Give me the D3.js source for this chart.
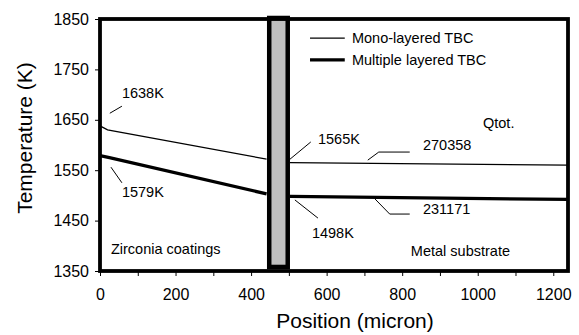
<!DOCTYPE html>
<html>
<head>
<meta charset="utf-8">
<script src="https://cdn.jsdelivr.net/npm/d3@7/dist/d3.min.js"></script>
<style>
  html, body { margin: 0; padding: 0; background: #fff; }
  svg { display: block; font-family: Arial, "Liberation Sans", Helvetica, sans-serif; }
</style>
</head>
<body>
<svg id="chart" width="579" height="335"></svg>
<script>
// Temperature profiles through a thermal barrier coating (position in micron, temperature in K)
const monoCoating    = [[0, 1638], [20, 1630], [441, 1572]];
const monoSubstrate  = [[503, 1565], [1239, 1560]];
const multiCoating   = [[0, 1579], [25, 1575], [441, 1503]];
const multiSubstrate = [[503, 1498], [1239, 1492]];

// Bond-coat band between coating and substrate
const bondBand = { x0: 448, x1: 497, t0: 1358, t1: 1852 };

const xTicks = [0, 100, 200, 300, 400, 500, 600, 700, 800, 900, 1000, 1100, 1200];
const xTickLabels = [0, 200, 400, 600, 800, 1000, 1200];
const yTicks = [1350, 1450, 1550, 1650, 1750, 1850];

// Callouts: leader polyline and label anchor, in data units
const callouts = [
  { text: "1638K",  leader: [[26, 1663], [58, 1677]], at: [58, 1703] },
  { text: "1579K",  leader: [[29, 1556], [58, 1525]], at: [58, 1507] },
  { text: "1565K",  leader: [[500, 1570], [558, 1606]], at: [577, 1612] },
  { text: "1498K",  leader: [[516, 1491], [577, 1455]], at: [561, 1425] },
  { text: "270358", leader: [[709, 1570], [738, 1586], [820, 1586]], at: [855, 1600] },
  { text: "231171", leader: [[728, 1493], [767, 1463], [820, 1463]], at: [855, 1473] }
];
const notes = [
  { text: "Qtot.", at: [1014, 1644] },
  { text: "Zirconia coatings", at: [29, 1394] },
  { text: "Metal substrate", at: [823, 1390] }
];
const legendItems = [
  { text: "Mono-layered TBC", width: 1.3, t: 1812 },
  { text: "Multiple layered TBC", width: 3.2, t: 1769 }
];

const svg = d3.select("#chart");
const x = d3.scaleLinear().domain([0, 1239]).range([100, 568]);
const y = d3.scaleLinear().domain([1350, 1850]).range([271, 19]);

// Axes with outward ticks
const xAxis = d3.axisBottom(x).tickValues(xTicks).tickSize(5).tickPadding(13)
  .tickFormat(d => xTickLabels.includes(d) ? String(d) : "");
const yAxis = d3.axisLeft(y).tickValues(yTicks).tickSize(5).tickPadding(6)
  .tickFormat(d3.format("d"));

const gx = svg.append("g").attr("transform", "translate(0,271)").call(xAxis);
const gy = svg.append("g").attr("transform", "translate(100,0)").call(yAxis);
[gx, gy].forEach(g => {
  g.select(".domain").remove();
  g.selectAll("line").attr("stroke", "#000").attr("stroke-width", 1);
  g.selectAll("text").attr("fill", "#000").style("font-size", "16px")
    .style("font-family", "Arial, 'Liberation Sans', sans-serif");
});

// Bond-coat band
svg.append("rect")
  .attr("x", x(bondBand.x0)).attr("y", y(bondBand.t1))
  .attr("width", x(bondBand.x1) - x(bondBand.x0))
  .attr("height", y(bondBand.t0) - y(bondBand.t1))
  .attr("fill", "#c0c0c0").attr("stroke", "#000").attr("stroke-width", 4.5);

// Profiles
const line = d3.line().x(d => x(d[0])).y(d => y(d[1]));
const series = [
  { data: monoCoating, w: 1.3 }, { data: monoSubstrate, w: 1.3 },
  { data: multiCoating, w: 3.2 }, { data: multiSubstrate, w: 3.2 }
];
svg.selectAll("path.profile").data(series).join("path")
  .attr("class", "profile")
  .attr("d", d => line(d.data))
  .attr("fill", "none").attr("stroke", "#000")
  .attr("stroke-width", d => d.w);

// Plot frame
svg.append("rect")
  .attr("x", x(0)).attr("y", y(1850))
  .attr("width", x(1239) - x(0)).attr("height", y(1350) - y(1850))
  .attr("fill", "none").attr("stroke", "#000").attr("stroke-width", 3.8);

// Callouts
const cg = svg.append("g");
callouts.forEach(c => {
  cg.append("path").attr("d", line(c.leader))
    .attr("fill", "none").attr("stroke", "#000").attr("stroke-width", 1);
  cg.append("text").attr("x", x(c.at[0])).attr("y", y(c.at[1]))
    .attr("dy", "0.35em").style("font-size", "14.5px").text(c.text);
});
notes.forEach(n => {
  cg.append("text").attr("x", x(n.at[0])).attr("y", y(n.at[1]))
    .attr("dy", "0.35em").style("font-size", "14.5px").text(n.text);
});

// Legend
const lg = svg.append("g");
legendItems.forEach(l => {
  lg.append("line").attr("x1", x(556)).attr("x2", x(648))
    .attr("y1", y(l.t)).attr("y2", y(l.t))
    .attr("stroke", "#000").attr("stroke-width", l.width);
  lg.append("text").attr("x", x(667)).attr("y", y(l.t)).attr("dy", "0.35em")
    .style("font-size", "14.5px").text(l.text);
});

// Axis titles
svg.append("text").attr("x", 355).attr("y", 328).attr("text-anchor", "middle")
  .style("font-size", "21px").text("Position (micron)");
svg.append("text").attr("transform", "translate(32,138) rotate(-90)")
  .attr("text-anchor", "middle").style("font-size", "21px").text("Temperature (K)");
</script>
</body>
</html>
